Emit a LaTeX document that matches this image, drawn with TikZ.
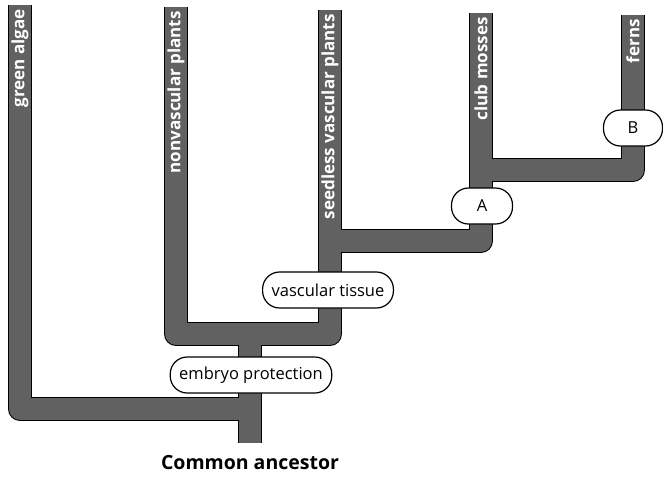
\documentclass[tikz,border=0pt]{standalone}
\usepackage{fontspec}
\setmainfont{Open Sans}
\usetikzlibrary{calc}
\begin{document}
\begin{tikzpicture}[
  x=1pt, y=-1pt,
  branch/.style={line width=24pt,draw=black,line join=round},
  branchfill/.style={line width=21.6pt,draw=black!62,line join=round},
  trait/.style={draw,fill=white,line width=1.2pt,rounded corners=17pt,minimum height=36pt,inner xsep=9pt,font=\fontsize{16.5}{18}\selectfont},
  taxon/.style={rotate=90,anchor=east,text=white,inner sep=0pt,font=\bfseries\fontsize{17}{18}\selectfont}
]
  \useasboundingbox (0,0) rectangle (663,480);

  % tips and joints of the tree
  \coordinate (root) at (250,443);
  \coordinate (j-algae) at (250,409);
  \coordinate (j-land) at (250,334);
  \coordinate (j-vasc) at (330,241);
  \coordinate (j-fern) at (481,170);
  \coordinate (t-algae) at (20,5);
  \coordinate (t-nonvasc) at (176,7);
  \coordinate (t-seedless) at (330,10);
  \coordinate (t-club) at (481,13);
  \coordinate (t-fern) at (633,15);

  \foreach \s in {branch,branchfill} {
    \draw[\s] (t-algae) |- (j-algae);
    \draw[\s] (root) -- (j-land);
    \draw[\s] (t-nonvasc) |- (j-land) -| (t-seedless);
    \draw[\s] (j-vasc) -| (t-club);
    \draw[\s] (j-fern) -| (t-fern);
  }

  \node[taxon] (algae) at ($(t-algae)+(0,4)$) {green algae};
  \node[taxon] (nonvasc) at ($(t-nonvasc)+(0,4)$) {nonvascular plants};
  \node[taxon] (seedless) at ($(t-seedless)+(0,4)$) {seedless vascular plants};
  \node[taxon] (club) at ($(t-club)+(0,4)$) {club mosses};
  \node[taxon] (fern) at ($(t-fern)+(0,4)$) {ferns};

  \node[trait] (embryo) at (251,375) {embryo protection};
  \node[trait] (vascular) at (328,290) {vascular tissue};
  \node[trait,minimum width=61pt] (a) at (482,206) {A};
  \node[trait,minimum width=59pt] (b) at (633,128) {B};

  \node[font=\bfseries\fontsize{19.5}{21}\selectfont] (ancestor) at (250,463) {Common ancestor};
\end{tikzpicture}
\end{document}
